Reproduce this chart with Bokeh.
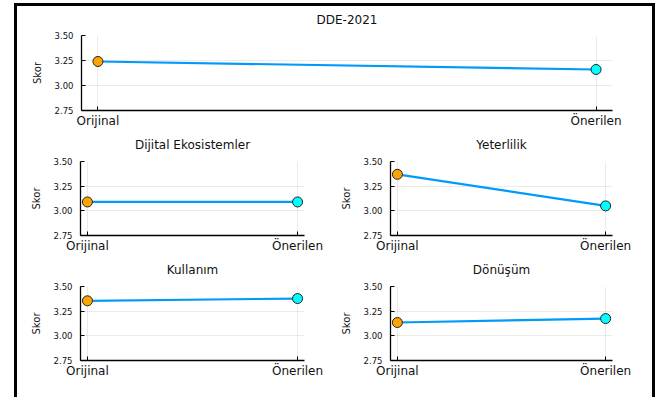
from bokeh.plotting import figure
from bokeh.layouts import column, row
from bokeh.models import FixedTicker, Range1d, ColumnDataSource, NumeralTickFormatter
from bokeh.embed import file_html
from bokeh.resources import INLINE

categories = ["Orijinal", "Önerilen"]
titles = ["DDE-2021", "Dijital Ekosistemler", "Yeterlilik", "Kullanım", "Dönüşüm"]
dde_2021 = [3.24, 3.16]
dijital_ekosistemler = [3.09, 3.09]
yeterlilik = [3.37, 3.05]
kullanim = [3.355, 3.378]
donusum = [3.135, 3.175]
y_ticks = [2.75, 3.00, 3.25, 3.50]
y_label = "Skor"

series = [dde_2021, dijital_ekosistemler, yeterlilik, kullanim, donusum]
marker_colors = ["#FFA500", "#00FFFF"]
FONT = "DejaVu Sans"


def make_fig(title, values, width, height, bl, br, bt, bb, title_standoff):
    xs = list(range(1, len(categories) + 1))
    p = figure(width=width, height=height, output_backend="svg", toolbar_location=None,
               x_range=Range1d(0.967, 2.033), y_range=Range1d(y_ticks[0], y_ticks[-1]),
               min_border_left=bl, min_border_right=br, min_border_top=bt, min_border_bottom=bb)
    p.title.text = title
    p.title.align = "center"
    p.title.vertical_align = "top"
    p.title.text_font = FONT
    p.title.text_font_size = "12px"
    p.title.text_font_style = "normal"
    p.title.text_color = "#111111"
    p.title.standoff = title_standoff
    p.outline_line_color = None
    p.background_fill_color = "white"
    p.border_fill_color = "white"

    p.xaxis.ticker = FixedTicker(ticks=xs)
    p.xaxis.major_label_overrides = {x: c for x, c in zip(xs, categories)}
    p.yaxis.ticker = FixedTicker(ticks=y_ticks)
    p.yaxis.formatter = NumeralTickFormatter(format="0.00")
    p.yaxis.axis_label = y_label
    p.yaxis.axis_label_text_font = FONT
    p.yaxis.axis_label_text_font_size = "10px"
    p.yaxis.axis_label_text_font_style = "normal"
    p.yaxis.axis_label_text_color = "#111111"
    p.yaxis.axis_label_standoff = 9
    for ax in (p.xaxis, p.yaxis):
        ax.axis_line_color = "black"
        ax.axis_line_width = 1.3
        ax.major_tick_line_color = "black"
        ax.major_tick_in = 4
        ax.major_tick_out = 0
        ax.minor_tick_line_color = None
        ax.major_label_text_font = FONT
        ax.major_label_text_color = "#111111"
    p.xaxis.major_label_text_font_size = "12px"
    p.xaxis.major_label_standoff = 3
    p.yaxis.major_label_text_font_size = "8.5px"
    p.yaxis.major_label_standoff = 8

    p.xgrid.ticker = FixedTicker(ticks=xs)
    p.grid.grid_line_color = "#000000"
    p.grid.grid_line_alpha = 0.08
    p.grid.grid_line_width = 1

    src = ColumnDataSource(dict(x=xs, y=values, c=marker_colors[:len(xs)]))
    p.line("x", "y", source=src, line_color="#009AFA", line_width=2.2)
    p.scatter("x", "y", source=src, size=10, fill_color="c", line_color="#222222", line_width=1)
    return p


p_top = make_fig(titles[0], series[0], 635, 124, 64, 40, 28, 19, 13)
p_ml = make_fig(titles[1], series[1], 310, 125, 63, 23, 30, 20, 15)
p_mr = make_fig(titles[2], series[2], 325, 125, 63, 40, 30, 20, 15)
p_bl = make_fig(titles[3], series[3], 310, 142, 63, 23, 30, 37, 15)
p_br = make_fig(titles[4], series[4], 325, 142, 63, 40, 30, 37, 15)

layout = column(p_top, row(p_ml, p_mr), row(p_bl, p_br),
                styles={"border-top": "3px solid black", "border-left": "3px solid black",
                        "border-right": "3px solid black", "margin-left": "14px",
                        "margin-top": "3px"})

open("out.html", "w").write(file_html(layout, INLINE))
